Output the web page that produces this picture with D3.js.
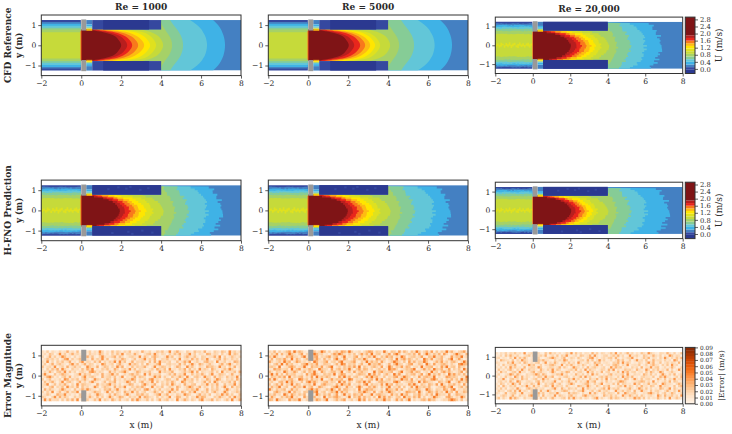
<!DOCTYPE html>
<html>
<head>
<meta charset="utf-8">
<script src="https://cdn.jsdelivr.net/npm/d3@7/dist/d3.min.js"></script>
<style>
  html, body { margin: 0; padding: 0; background: #fff; }
  svg { display: block; }
  text { font-family: "DejaVu Serif", serif; fill: #2a2a2a; }
</style>
</head>
<body>
<svg id="chart" width="732" height="434"></svg>
<script>
// ---- text and ticks ----
const columnTitles = ["Re = 1000", "Re = 5000", "Re = 20,000"];
const rowTitles = ["CFD Reference", "H-FNO Prediction", "Error Magnitude"];
const xTicks = [-2, 0, 2, 4, 6, 8];
const yTicks = [-1, 0, 1];
const velocityTicks = [0, 0.4, 0.8, 1.2, 1.6, 2.0, 2.4, 2.8];
const errorTicks = [0, 0.01, 0.02, 0.03, 0.04, 0.05, 0.06, 0.07, 0.08, 0.09];

// ---- velocity colour bands (lower bound of each band, in m/s) ----
const velocityLevels = [-0.26, -0.05, 0.1, 0.25, 0.4, 0.55, 0.7, 0.85, 1.0, 1.15, 1.3, 1.45, 1.6, 1.75, 1.9, 2.93];
const velocityColors = ["#2b3990", "#35489f", "#4480c2", "#3fb2e6", "#62c6d8", "#86cc96", "#a6d167", "#c6da3a",
                        "#dfe11f", "#ffe600", "#fdbb12", "#f8791c", "#e8261c", "#b81e1e", "#7f1416"];

// ---- jet contours: centreline reach (x, m) of each velocity contour ----
const contourValues = [0.25, 0.4, 0.55, 0.7, 0.85, 1.0, 1.15, 1.3, 1.45, 1.6, 1.75, 1.9];
const reachCfd1000  = [7.2, 6.3, 5.1, 4.55, 4.1, 3.75, 3.45, 3.15, 2.85, 2.55, 2.3, 2.0];
const reachCfd5000  = [7.2, 6.33, 5.3, 4.55, 4.1, 3.6, 3.35, 3.1, 2.85, 2.6, 2.3, 2.03];
const reachCfd20000 = [6.8, 6.0, 5.2, 4.5, 4.05, 3.65, 3.35, 3.1, 2.85, 2.6, 2.35, 2.05];
const reachFno1000  = [7.0, 6.3, 5.35, 4.7, 4.1, 3.6, 3.25, 2.95, 2.7, 2.45, 2.2, 1.95];
const reachFno5000  = [7.05, 6.3, 5.3, 4.65, 4.1, 3.6, 3.3, 3.0, 2.75, 2.5, 2.25, 2.0];
const reachFno20000 = [7.2, 6.05, 5.2, 4.5, 4.0, 3.45, 3.2, 2.95, 2.75, 2.55, 2.3, 2.07];

// How far each contour pulls back from its centreline reach at these |y| stations
const profileStations = [0, 0.25, 0.5, 0.65, 0.78, 1.0, 1.25];
const contourPullback = [
  [0, 0.02, 0.08, 0.14, 0.2, 0.35, 0.6],
  [0, 0.03, 0.11, 0.2, 0.28, 0.5, 0.85],
  [0, 0.03, 0.12, 0.21, 0.3, 0.48, 0.65],
  [0, 0.04, 0.16, 0.27, 0.36, 0.5, 0.55],
  [0, 0.08, 0.3, 0.6, 1.0, 1.0, 1.0],
  [0, 0.1, 0.35, 0.65, 1.3, 1.3, 1.3],
  [0, 0.12, 0.4, 0.75, 1.5, 1.5, 1.5],
  [0, 0.12, 0.45, 0.85, 1.6, 1.6, 1.6],
  [0, 0.12, 0.45, 0.9, 1.7, 1.7, 1.7],
  [0, 0.12, 0.45, 0.9, 1.75, 1.75, 1.75],
  [0, 0.12, 0.45, 0.95, 1.7, 1.7, 1.7],
  [0, 0.12, 0.4, 0.9, 1.55, 1.55, 1.55]
];
// Staircase size of each contour on the coarser solutions
const contourRoughness = [0.14, 0.1, 0.08, 0.07, 0.05, 0.05, 0.04, 0.04, 0.03, 0.03, 0.03, 0.02];
const edgeRipple = [0.4, -0.7, 0.9, 0.1, -0.4, 0.8, -1.0, 0.3, 0.6, -0.2, -0.9, 0.5, 1.0, -0.5, 0.2,
                    -0.8, 0.7, -0.1, 0.9, -0.6, 0.3, -1.0, 0.6, 0.1, -0.3, 0.8, -0.7, 0.4, -0.2, 1.0, -0.4];

// ---- inlet channel profile: velocity and outer |y| of each band ----
const inletValues     = [0.0, 0.15, 0.3, 0.45, 0.6, 0.75, 0.9];
const inletLimitsCfd  = [1.25, 1.15, 1.07, 0.97, 0.87, 0.78, 0.65];
const inletLimitsFine = [1.25, 1.16, 1.07, 0.98, 0.88, 0.76, 0.6];
const inletStreakValue = 1.05;
const streakUpper = [0.04, 0.1, 0.02, 0.14, 0.08, 0.0, 0.12, 0.05, 0.16, 0.03, 0.09, 0.13, 0.0, 0.07, 0.15, 0.04, 0.11, 0.02, 0.1, 0.14, 0.06, 0.09, 0.03];
const streakLower = [0.08, 0.02, 0.12, 0.06, 0.0, 0.13, 0.04, 0.1, 0.03, 0.15, 0.07, 0.0, 0.11, 0.14, 0.02, 0.09, 0.05, 0.12, 0.03, 0.07, 0.13, 0.01, 0.08];

// ---- short gap just past the obstacle: velocity and outer |y| ----
const gapValues = [0.15, 0.3, 0.45, 0.75, 1.2, 1.35, 1.5];
const gapLimits = [1.25, 1.03, 0.93, 0.87, 0.82, 0.77, 0.72];

// ---- recirculation blocks and obstacle (x and |y| extents, m) ----
const blockSpan = [0.55, 4];
const blockWall = 0.78;
const blockDarkSpanCfd = [1.1, 3.4];
const blockDarkSpanFine = [0.55, 4];
const blockValues = [0.0, -0.1];
// Small faster patches inside the blocks of the predicted fields (x, y)
const blockSpecksX = [1.3, 1.8, 2.2, 2.4, 2.9, 3.3, 1.5, 2.3, 2.5, 3.0, 3.5];
const blockSpecksY = [1.05, 1.14, 1.08, 1.16, 1.02, 1.1, -1.12, -1.06, -1.16, -1.0, -1.1];
const obstacleX = [0, 0.25];
const obstacleY = [0.73, 1.28];
const fieldX = [-2, 8];
const fieldY = [-1.25, 1.25];

// ---- error magnitude cells: one digit per cell, decoded by errorDigitValues ----
const errorRe1000 = [
  "31604215238241703526142950317264153702418325016472391584206317452813064275193624",
  "24175039261483520716342851406273915528410367294153062748135926043187254061392751",
  "50382614972305146283710594236817402563291740685213947026158437206513482906137425",
  "13746250389162475031826492701534862037145926380154723619045283716492035817426350",
  "42915063724813069254173805264919370281546307182945360172485903621784509236141873",
  "26038157420693714826503197246058312947516083247901563428270593186247310582694153",
  "71452903618247350196428037615294803172645820391476250386119472053186742935062814",
  "30627481952063417285903164721850463927154203618547092316480725193640852137496203",
  "15284067391725046318972540183625794013862547201936458102473691805324716092534718",
  "49310725864103592746035182469370152684730918254601373825490172648305912764038215",
  "23896140572814306925741083562714903258176402395816207348519206731954082641735390",
  "60471325098264715830296413750824163597042618935204761380295471603285149720536184",
  "17258304916730482516942037165803249716058243907152638401972560314827096153472805",
  "35902716483051927643108254793615024871306952481063729514083267015492638107254916",
  "42168053719462807351296047531826490163758402915370264185036972481530627149308265",
  "08374215962307148596320417682593140627351894062713549280136475920381647205941362",
  "51629037148265903712486503927164085392714602385170493621850749216370584129603475",
  "23740186592413068725139640271853069412758360147925803164297510483627015394826017",
  "64105928374016259038417260395148720635291874306152490387216043958721064853172946",
  "19283450617382904561273906418527136084952371604825713092485163079245816304729138"
];
const errorRe5000 = [
  "42705136829475103862497150362874951240368715429306518274063951472806153947204681",
  "15380724963158042697351204869731526048372915603481795024637180495263718402596317",
  "63941207584316925078143682570491326805147392063857142970356248106593472018365924",
  "27056483191740362958417250693184027364951208735146092683741520963814570269148302",
  "84136295703862415097236804517923468105293746183025974160837254961037482516730495",
  "30572918461205793648126540372981546037129465830271695403781264095182367415208976",
  "56419023786134920756381479025163748290631574280396154827603419256703184925607341",
  "21867345092681437520964308157264930582761403625197840236579014836295471380526194",
  "73054196248503716492085136724903618257430192684357026914583760241935068473125806",
  "49281607356124083795216463905871230476519382604731948205367148059263714095836271",
  "16537480925367142809364751208493715620384957216043782596403182675490312875640329",
  "82940351672098461735290148365702981436025719380462513967280415723896140537261948",
  "35106729483216079584136725409381620574938102675431896024573192864310752690148437",
  "60472815391750346291068543172964803251790634281957063412859306417528093164725081",
  "27359146028463915702863104795218340695127483062591437060281954637102458369014726",
  "94163570283621047958312649508176324091586732140965382710534862197305428617903254",
  "10685243917340652879146037592846103275964180372596413028756193048627351946082375",
  "53724096185263704819526371480392617548023916754208361947205483162709534180276431",
  "28401637592410836572309164785213906482735160948273156094627381502496310785142960",
  "76195320846592147038625901473680251394806217359460283715904126738561024379851602"
];
const errorRe20000 = [
  "30426153724190352641072835140263917250431826054137290614825031742963105428316027",
  "12507384261035729146380251706492135076248193025614738250193462075138426031972540",
  "45132062917483025361024796315802641730258914035267183042569130274815306294152738",
  "20864317052964130275843106253971420356182704936125048371260493517028345162409713",
  "53120749236085142670391528403617250941362085713420658193740216305948127036254180",
  "14072365810423957126043785219064831527403169250341786052913437026158430627193502",
  "32506194723180465297013652481730296415082573146029385714206350814392670251384016",
  "07241583062931745208416392750124638051927430265183904127563084219506371428050394",
  "41835026719340268157320495126387041562093714280561327094825613407285139602473105",
  "26103597284105346972850143769250318426051937204168253470921534086271503941628037",
  "50317240961825304176293580142673052481936120574835216094738120564327018594203618",
  "13492067351846025713946205381027493615207348162905472318603941725630284170539246",
  "04625183097214530681724359106248317052493680151724036985102346872519041362807513",
  "31750429618035274192063581472036950124783162590342718065231947043825610973420586",
  "25083164702539418260375192645073120864395217306481025739164052834176029354217068",
  "42716035294106853724501369208417536029174250368193647102583049627150318624907315",
  "16340572819253064718239504126873041569203714825630194372650812943071562048316294",
  "53028146703912465083712654930218476305129184037265408129635720143895260471385026",
  "20475138206341795260813429075316824017953642018537261094385260731452096183472509",
  "37162094851062345917260483125708394261530479152048376215043968270513284160923741"
];
const errorDigitValues = [0.006, 0.009, 0.012, 0.015, 0.017, 0.02, 0.023, 0.027, 0.033, 0.044];
const errorPanelGain = [1, 1.15, 0.95];

// ---- frame geometry ----
const columnLeft = [41.3, 268.3, 495.3];
const columnRight = [241, 468, 682.7];
const columnHalfHeight = [30.3, 30.3, 28.2];
const rowCentre = [45.3, 210.4, 375.6];
const barLeft = 685.3, barRight = 695;
const frameColour = "#333";

const svg = d3.select("#chart");
const colourOf = d3.scaleThreshold().domain(velocityLevels.slice(1, -1)).range(velocityColors);
const errorColour = d3.scaleSequential(d3.interpolateOranges).domain([0, 0.09]);

// Shared tick styling for every axis
function styleAxis(g, size = 7.6) {
  g.select(".domain").remove();
  g.selectAll(".tick line").attr("stroke", frameColour).attr("stroke-width", 0.8);
  g.selectAll(".tick text").attr("font-family", '"DejaVu Serif", serif').attr("font-size", size).attr("fill", "#2a2a2a");
}

function drawAxesAndFrame(g, x, y, width, top, bottom) {
  g.append("g").attr("transform", `translate(0,${bottom})`)
    .call(d3.axisBottom(x).tickValues(xTicks).tickSize(3).tickPadding(2)).call(styleAxis);
  g.append("g").attr("transform", `translate(${x.range()[0]},0)`)
    .call(d3.axisLeft(y).tickValues(yTicks).tickFormat(d3.format("d")).tickSize(3).tickPadding(2)).call(styleAxis);
  g.append("rect").attr("x", x.range()[0]).attr("y", top).attr("width", width).attr("height", bottom - top)
    .attr("fill", "none").attr("stroke", frameColour).attr("stroke-width", 1);
}

function drawObstacle(g, x, y) {
  [1, -1].forEach(sign => {
    const a = y(sign * obstacleY[0]), b = y(sign * obstacleY[1]);
    g.append("rect").attr("x", x(obstacleX[0])).attr("width", x(obstacleX[1]) - x(obstacleX[0]))
      .attr("y", Math.min(a, b)).attr("height", Math.abs(a - b)).attr("fill", "#999");
  });
}

// One velocity panel: inlet profile, jet contours, recirculation blocks, obstacle
function drawVelocityPanel(root, id, x, y, reach, rough, inletLimits, darkSpan, withSpecks) {
  const clipId = "core-" + id;
  const clip = root.append("clipPath").attr("id", clipId);
  clip.append("rect").attr("x", x(0)).attr("width", x(4) - x(0))
    .attr("y", y(blockWall)).attr("height", y(-blockWall) - y(blockWall));
  clip.append("rect").attr("x", x(4)).attr("width", x(8) - x(4))
    .attr("y", y(fieldY[1])).attr("height", y(fieldY[0]) - y(fieldY[1]));

  const g = root.append("g");

  // Free-stream tone behind the contours
  const jet = g.append("g").attr("clip-path", `url(#${clipId})`);
  jet.append("rect").attr("x", x(0)).attr("width", x(8) - x(0))
    .attr("y", y(fieldY[1])).attr("height", y(fieldY[0]) - y(fieldY[1]))
    .attr("fill", colourOf(0.15));

  // Contours painted from the slowest (widest) to the fastest
  contourValues.forEach((value, k) => {
    const back = d3.scaleLinear().domain(profileStations).range(contourPullback[k]).clamp(true);
    let edge;
    if (rough > 0) {
      const ys = d3.range(fieldY[0], fieldY[1] + 0.001, 0.09);
      const pts = ys.map((v, i) => [reach[k] - back(Math.abs(v)) +
        edgeRipple[(i * 3 + k * 7) % edgeRipple.length] * contourRoughness[k] * rough, v]);
      edge = d3.line().x(d => x(d[0])).y(d => y(d[1])).curve(d3.curveStepAfter)(pts);
    } else {
      const pts = profileStations.slice().reverse().map(s => [reach[k] - back(s), -s])
        .concat(profileStations.slice(1).map(s => [reach[k] - back(s), s]));
      edge = d3.line().x(d => x(d[0])).y(d => y(d[1])).curve(d3.curveMonotoneY)(pts);
    }
    const d = `M${x(0)},${y(fieldY[0])}L` + edge.slice(1) + `L${x(0)},${y(fieldY[1])}Z`;
    jet.append("path").attr("d", d).attr("fill", colourOf(value));
  });

  // Inlet channel, stacked outer band first
  const cellsX = d3.range(fieldX[0], 0.001, 0.09);
  inletValues.forEach((value, k) => {
    const amp = k === 0 ? 0 : (rough > 0 ? 0.02 * rough : 0);
    const area = d3.area()
      .x(d => x(Math.min(d, 0)))
      .y0((d, i) => y(-inletLimits[k] - amp * edgeRipple[(i * 2 + k * 5) % edgeRipple.length]))
      .y1((d, i) => y(inletLimits[k] + amp * edgeRipple[(i * 2 + k * 5 + 11) % edgeRipple.length]))
      .curve(d3.curveStepAfter);
    g.append("path").attr("d", area(cellsX)).attr("fill", colourOf(value));
  });
  if (rough > 0) {
    // Faster streak along the centreline of the inlet on the coarser solutions
    const area = d3.area()
      .x(d => x(Math.min(d, 0)))
      .y0((d, i) => y(-streakLower[i % streakLower.length]))
      .y1((d, i) => y(streakUpper[i % streakUpper.length]))
      .curve(d3.curveStepAfter);
    g.append("path").attr("d", area(cellsX)).attr("fill", colourOf(inletStreakValue));
  }

  // Thin shear rim at the obstacle's upstream face
  g.append("rect").attr("x", x(-0.04)).attr("width", x(0) - x(-0.04))
    .attr("y", y(gapLimits[6])).attr("height", y(-gapLimits[6]) - y(gapLimits[6]))
    .attr("fill", colourOf(1.5));

  // Gap behind the obstacle, upper and lower
  [1, -1].forEach(sign => {
    gapValues.forEach((value, k) => {
      const inner = k + 1 < gapLimits.length ? gapLimits[k + 1] : blockWall - 0.06;
      const a = y(sign * gapLimits[k]), b = y(sign * inner);
      g.append("rect").attr("x", x(obstacleX[1])).attr("width", x(blockSpan[0]) - x(obstacleX[1]))
        .attr("y", Math.min(a, b)).attr("height", Math.abs(a - b)).attr("fill", colourOf(value));
    });
    // Recirculation block beside the jet, with its darker middle stretch
    const a = y(sign * fieldY[1]), b = y(sign * blockWall);
    g.append("rect").attr("x", x(blockSpan[0])).attr("width", x(blockSpan[1]) - x(blockSpan[0]))
      .attr("y", Math.min(a, b)).attr("height", Math.abs(a - b)).attr("fill", colourOf(blockValues[0]));
    g.append("rect").attr("x", x(darkSpan[0])).attr("width", x(darkSpan[1]) - x(darkSpan[0]))
      .attr("y", Math.min(a, b)).attr("height", Math.abs(a - b)).attr("fill", colourOf(blockValues[1]));
  });
  if (withSpecks) {
    g.append("g").selectAll("rect").data(blockSpecksX).join("rect")
      .attr("x", d => x(d)).attr("width", x(0.12) - x(0))
      .attr("y", (d, i) => y(blockSpecksY[i] + 0.05)).attr("height", y(0) - y(0.1))
      .attr("fill", colourOf(blockValues[0]));
  }
  drawObstacle(g, x, y);
}

// One error panel: a grid of cells from the digit rows
function drawErrorPanel(root, x, y, rows, gain) {
  const cols = d3.range(rows[0].length);
  const rowIndex = d3.range(rows.length);
  const cx = d3.scaleBand().domain(cols).range([x(fieldX[0]), x(fieldX[1])]);
  const cy = d3.scaleBand().domain(rowIndex).range([y(fieldY[1]), y(fieldY[0])]);
  const cells = rowIndex.flatMap(r => cols.map(c => ({ r, c, v: errorDigitValues[+rows[r][c]] * gain })));
  root.append("g").selectAll("rect").data(cells).join("rect")
    .attr("x", d => cx(d.c)).attr("y", d => cy(d.r))
    .attr("width", cx.bandwidth() + 0.4).attr("height", cy.bandwidth() + 0.4)
    .attr("fill", d => errorColour(d.v));
  drawObstacle(root, x, y);
}

function drawColourbar(top, bottom, kind, ticks, format, label, labelX, labelSize, tickSize) {
  const g = svg.append("g");
  let bar;
  if (kind === "velocity") {
    bar = d3.scaleLinear().domain([velocityLevels[0], velocityLevels[velocityLevels.length - 1]]).range([bottom, top]);
    g.selectAll("rect").data(velocityColors).join("rect")
      .attr("x", barLeft).attr("width", barRight - barLeft)
      .attr("y", (d, i) => bar(velocityLevels[i + 1]))
      .attr("height", (d, i) => bar(velocityLevels[i]) - bar(velocityLevels[i + 1]))
      .attr("fill", d => d);
  } else {
    bar = d3.scaleLinear().domain([0, 0.09]).range([bottom, top]);
    const steps = d3.range(0, 0.09, 0.0045);
    g.selectAll("rect").data(steps).join("rect")
      .attr("x", barLeft).attr("width", barRight - barLeft)
      .attr("y", d => bar(d + 0.0045)).attr("height", d => bar(d) - bar(d + 0.0045) + 0.3)
      .attr("fill", d => errorColour(d + 0.00225));
  }
  g.append("g").attr("transform", `translate(${barRight},0)`)
    .call(d3.axisRight(bar).tickValues(ticks).tickFormat(format).tickSize(3).tickPadding(2))
    .call(styleAxis, tickSize);
  g.append("rect").attr("x", barLeft).attr("y", top).attr("width", barRight - barLeft).attr("height", bottom - top)
    .attr("fill", "none").attr("stroke", frameColour).attr("stroke-width", 1);
  g.append("text").attr("transform", `translate(${labelX},${(top + bottom) / 2}) rotate(-90)`)
    .attr("text-anchor", "middle").attr("font-size", labelSize).text(label);
}

// Build the 3 x 3 figure
const velocityPanels = [
  [reachCfd1000, reachCfd5000, reachCfd20000],
  [reachFno1000, reachFno5000, reachFno20000]
];
const errorPanels = [errorRe1000, errorRe5000, errorRe20000];
const panelRoughness = [[0, 0, 1], [1, 1, 1.2]];

rowCentre.forEach((cy, row) => {
  columnLeft.forEach((left, col) => {
    const right = columnRight[col], half = columnHalfHeight[col];
    const top = cy - half, bottom = cy + half;
    const x = d3.scaleLinear().domain(fieldX).range([left, right]);
    const y = d3.scaleLinear().domain([-1.5, 1.5]).range([bottom, top]);
    const g = svg.append("g");
    if (row < 2) {
      const rough = panelRoughness[row][col];
      drawVelocityPanel(g, `${row}-${col}`, x, y, velocityPanels[row][col], rough,
        rough > 0 ? inletLimitsFine : inletLimitsCfd,
        rough > 0 ? blockDarkSpanFine : blockDarkSpanCfd, row === 1);
    } else {
      drawErrorPanel(g, x, y, errorPanels[col], errorPanelGain[col]);
    }
    drawAxesAndFrame(g, x, y, right - left, top, bottom);
    if (row === 0) {
      svg.append("text").attr("x", (left + right) / 2).attr("y", top - 5)
        .attr("text-anchor", "middle").attr("font-size", 9).attr("font-weight", "bold").text(columnTitles[col]);
    }
    if (row === 2) {
      svg.append("text").attr("x", (left + right) / 2).attr("y", 428)
        .attr("text-anchor", "middle").attr("font-size", 9).text("x (m)");
    }
  });
  svg.append("text").attr("transform", `translate(10.5,${cy}) rotate(-90)`)
    .attr("text-anchor", "middle").attr("font-size", 9).attr("font-weight", "bold").text(rowTitles[row]);
  svg.append("text").attr("transform", `translate(22,${cy}) rotate(-90)`)
    .attr("text-anchor", "middle").attr("font-size", 8.6).attr("font-weight", "bold").text("y (m)");
  const half = columnHalfHeight[2];
  if (row < 2) {
    drawColourbar(cy - half, cy + half, "velocity", velocityTicks, d3.format(".1f"), "U (m/s)", 722, 9, 6.8);
  } else {
    drawColourbar(cy - half, cy + half, "error", errorTicks, d3.format(".2f"), "|Error| (m/s)", 724, 8, 5.8);
  }
});
</script>
</body>
</html>
